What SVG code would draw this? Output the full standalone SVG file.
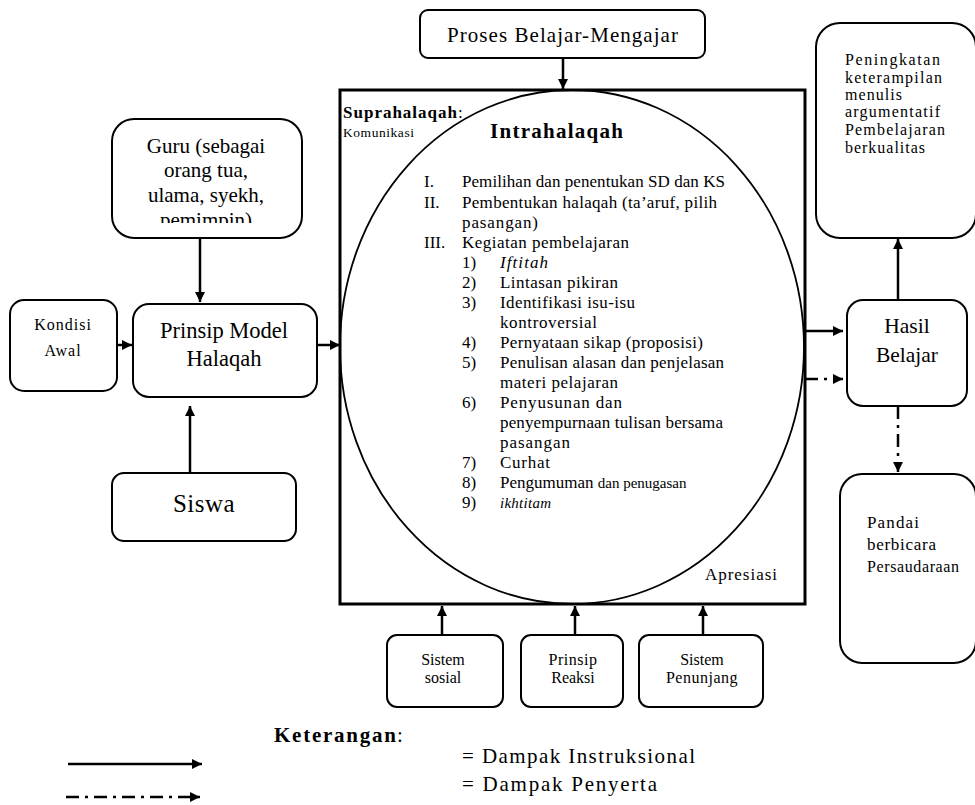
<svg xmlns="http://www.w3.org/2000/svg" width="975" height="805" viewBox="0 0 975 805" font-family="'Liberation Serif','Times New Roman',serif">
<defs>
<style>
text{font-family:"Liberation Serif","Times New Roman",serif;fill:#000}
.box{fill:#fff;stroke:#000;stroke-width:2}
.c{stroke:#000;stroke-width:2.5;fill:none}
.dd{stroke:#000;stroke-width:2.5;fill:none;stroke-dasharray:13 6 3 6}
.mid{text-anchor:middle}
.lst{font-size:17px}
</style>
<marker id="ah" viewBox="0 0 10 10" refX="10" refY="5" markerWidth="4" markerHeight="4" orient="auto" markerUnits="strokeWidth">
<path d="M0,0 L10,5 L0,10 z" fill="#000"/>
</marker>
<clipPath id="guruClip"><rect x="112" y="119" width="190" height="104"/></clipPath>
</defs>
<rect width="975" height="805" fill="#fff"/>

<g id="main">
<rect x="340" y="90" width="465" height="514" fill="none" stroke="#000" stroke-width="3"/>
<ellipse cx="572" cy="347" rx="232" ry="257" fill="none" stroke="#000" stroke-width="1.8"/>
<text x="343" y="118" font-size="17" font-weight="bold" textLength="114" lengthAdjust="spacing">Suprahalaqah</text>
<text x="458" y="118" font-size="17">:</text>
<text x="343" y="137" font-size="13.5" textLength="71" lengthAdjust="spacing">Komunikasi</text>
<text x="490" y="138" font-size="21" font-weight="bold" textLength="133" lengthAdjust="spacing">Intrahalaqah</text>
<g class="lst">
<text x="424" y="187">I.</text><text x="462" y="187" textLength="263" lengthAdjust="spacing">Pemilihan dan penentukan SD dan KS</text>
<text x="424" y="208">II.</text><text x="462" y="208" textLength="255" lengthAdjust="spacing">Pembentukan halaqah (ta’aruf, pilih</text>
<text x="462" y="228" textLength="76" lengthAdjust="spacing">pasangan)</text>
<text x="424" y="248">III.</text><text x="462" y="248" textLength="167" lengthAdjust="spacing">Kegiatan pembelajaran</text>
<text x="462" y="268">1)</text><text x="500" y="268" font-style="italic" textLength="48" lengthAdjust="spacing">Iftitah</text>
<text x="462" y="288">2)</text><text x="500" y="288" textLength="118" lengthAdjust="spacing">Lintasan pikiran</text>
<text x="462" y="308">3)</text><text x="500" y="308" textLength="135" lengthAdjust="spacing">Identifikasi isu-isu</text>
<text x="500" y="328" textLength="97" lengthAdjust="spacing">kontroversial</text>
<text x="462" y="348">4)</text><text x="500" y="348" textLength="203" lengthAdjust="spacing">Pernyataan sikap (proposisi)</text>
<text x="462" y="368">5)</text><text x="500" y="368" textLength="224" lengthAdjust="spacing">Penulisan alasan dan penjelasan</text>
<text x="500" y="388" textLength="118" lengthAdjust="spacing">materi pelajaran</text>
<text x="462" y="408">6)</text><text x="500" y="408" textLength="122" lengthAdjust="spacing">Penyusunan dan</text>
<text x="500" y="428" textLength="223" lengthAdjust="spacing">penyempurnaan tulisan bersama</text>
<text x="500" y="448" textLength="70" lengthAdjust="spacing">pasangan</text>
<text x="462" y="468">7)</text><text x="500" y="468" textLength="50" lengthAdjust="spacing">Curhat</text>
<text x="462" y="488">8)</text><text x="500" y="488">Pengumuman <tspan font-size="15">dan penugasan</tspan></text>
<text x="462" y="508">9)</text><text x="500" y="508" font-style="italic" font-size="15" textLength="51" lengthAdjust="spacing">ikhtitam</text>
</g>
<text x="705" y="580" font-size="17" textLength="72" lengthAdjust="spacing">Apresiasi</text>
</g>

<g id="proses">
<rect class="box" x="420" y="10" width="285" height="48" rx="8"/>
<text x="447" y="42" font-size="21" textLength="231" lengthAdjust="spacing">Proses Belajar-Mengajar</text>
</g>

<g id="guru">
<rect class="box" x="112" y="119" width="190" height="119" rx="22"/>
<g clip-path="url(#guruClip)" font-size="21">
<text class="mid" x="206" y="153">Guru (sebagai</text>
<text class="mid" x="206" y="177">orang tua,</text>
<text class="mid" x="206" y="202">ulama, syekh,</text>
<text class="mid" x="206" y="227">pemimpin)</text>
</g>
</g>

<g id="kondisi">
<rect class="box" x="10" y="300" width="107" height="91" rx="14"/>
<text class="mid" x="63" y="330" font-size="16" letter-spacing="1">Kondisi</text>
<text class="mid" x="63" y="356" font-size="16" letter-spacing="1">Awal</text>
</g>

<g id="prinsip">
<rect class="box" x="133" y="304" width="184" height="93" rx="16"/>
<text class="mid" x="224" y="338" font-size="22.5">Prinsip Model</text>
<text class="mid" x="224" y="366" font-size="22.5">Halaqah</text>
</g>

<g id="siswa">
<rect class="box" x="112" y="473" width="184" height="68" rx="12"/>
<text class="mid" x="204" y="512" font-size="25" letter-spacing="0.5">Siswa</text>
</g>

<g id="hasil">
<rect class="box" x="847" y="300" width="120" height="106" rx="16"/>
<text class="mid" x="907" y="333" font-size="21.5">Hasil</text>
<text class="mid" x="907" y="362" font-size="21.5">Belajar</text>
</g>

<g id="peningkatan">
<rect class="box" x="816" y="23" width="160" height="215" rx="24"/>
<g font-size="16">
<text x="845" y="65" textLength="95" lengthAdjust="spacing">Peningkatan</text>
<text x="845" y="83" textLength="97" lengthAdjust="spacing">keterampilan</text>
<text x="845" y="100" textLength="57" lengthAdjust="spacing">menulis</text>
<text x="845" y="117" textLength="95" lengthAdjust="spacing">argumentatif</text>
<text x="845" y="135" textLength="100" lengthAdjust="spacing">Pembelajaran</text>
<text x="845" y="153" textLength="80" lengthAdjust="spacing">berkualitas</text>
</g>
</g>

<g id="pandai">
<rect class="box" x="840" y="474" width="136" height="189" rx="22"/>
<text x="867" y="528" font-size="17" textLength="52" lengthAdjust="spacing">Pandai</text>
<text x="867" y="550" font-size="17" textLength="69" lengthAdjust="spacing">berbicara</text>
<text x="867" y="572" font-size="16" textLength="92" lengthAdjust="spacing">Persaudaraan</text>
</g>

<g id="sistemSosial">
<rect class="box" x="387" y="635" width="116" height="72" rx="10"/>
<text class="mid" x="443" y="665" font-size="16">Sistem</text>
<text class="mid" x="443" y="683" font-size="16">sosial</text>
</g>
<g id="prinsipReaksi">
<rect class="box" x="521" y="635" width="102" height="72" rx="10"/>
<text class="mid" x="573" y="665" font-size="16" letter-spacing="0.5">Prinsip</text>
<text class="mid" x="573" y="683" font-size="16">Reaksi</text>
</g>
<g id="sistemPenunjang">
<rect class="box" x="639" y="635" width="124" height="72" rx="10"/>
<text class="mid" x="702" y="665" font-size="16">Sistem</text>
<text class="mid" x="702" y="683" font-size="16" letter-spacing="0.5">Penunjang</text>
</g>

<g id="connectors">
<line class="c" x1="563" y1="58" x2="563" y2="89" marker-end="url(#ah)"/>
<line class="c" x1="200" y1="238" x2="200" y2="302" marker-end="url(#ah)"/>
<line class="c" x1="117" y1="345" x2="132" y2="345" marker-end="url(#ah)"/>
<line class="c" x1="317" y1="345" x2="340" y2="345" marker-end="url(#ah)"/>
<line class="c" x1="190" y1="473" x2="190" y2="406" marker-end="url(#ah)"/>
<line class="c" x1="805" y1="331" x2="843" y2="331" marker-end="url(#ah)"/>
<line class="dd" x1="805" y1="379" x2="843" y2="379" marker-end="url(#ah)"/>
<line class="c" x1="898" y1="300" x2="898" y2="239" marker-end="url(#ah)"/>
<line class="dd" x1="898" y1="406" x2="898" y2="472" marker-end="url(#ah)"/>
<line class="c" x1="442" y1="635" x2="442" y2="606" marker-end="url(#ah)"/>
<line class="c" x1="575" y1="635" x2="575" y2="606" marker-end="url(#ah)"/>
<line class="c" x1="703" y1="635" x2="703" y2="606" marker-end="url(#ah)"/>
</g>

<g id="legend">
<text x="274" y="742" font-size="21" font-weight="bold" textLength="122" lengthAdjust="spacing">Keterangan</text>
<text x="397" y="742" font-size="21">:</text>
<line class="c" x1="68" y1="764" x2="202" y2="764" marker-end="url(#ah)"/>
<line class="dd" x1="66" y1="797" x2="200" y2="797" marker-end="url(#ah)"/>
<text x="462" y="763" font-size="21" textLength="233" lengthAdjust="spacing">= Dampak Instruksional</text>
<text x="462" y="791" font-size="21" textLength="195" lengthAdjust="spacing">= Dampak Penyerta</text>
</g>
</svg>
